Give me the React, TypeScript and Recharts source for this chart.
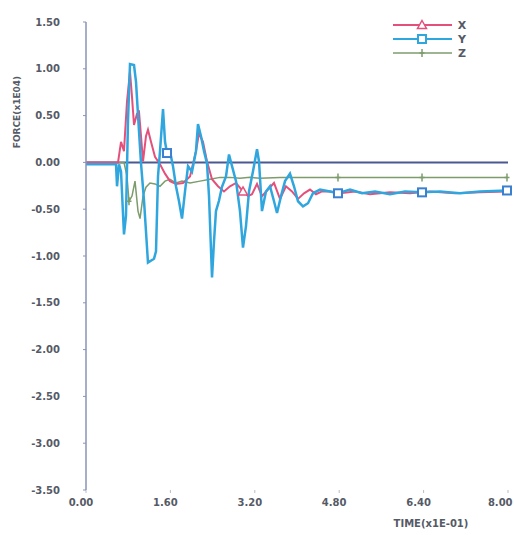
import { LineChart, Line, XAxis, YAxis, ReferenceLine } from "recharts";

// time in units of 1E-01, force in units of 1E04
const X_TIME = [0, 0.607, 0.664, 0.72, 0.777, 0.834, 0.872, 0.91, 0.967, 1.005, 1.043, 1.081, 1.137, 1.175, 1.232, 1.308, 1.403, 1.498, 1.592, 1.706, 1.839, 1.972, 2.085, 2.142, 2.218, 2.294, 2.389, 2.502, 2.616, 2.73, 2.844, 2.976, 3.071, 3.147, 3.242, 3.336, 3.45, 3.564, 3.678, 3.791, 3.905, 4.019, 4.133, 4.246, 4.36, 4.474, 4.626, 4.815, 5.1, 5.384, 5.763, 6.142, 6.521, 6.995, 7.469, 7.981];
const X_FORCE = [0, 0, 0.22, 0.12, 0.65, 0.97, 0.7, 0.4, 0.52, 0.54, 0.28, 0.01, 0.28, 0.35, 0.22, 0.06, -0.02, -0.12, -0.2, -0.23, -0.22, -0.15, 0.12, 0.31, 0.22, 0.01, -0.18, -0.255, -0.31, -0.255, -0.22, -0.31, -0.36, -0.34, -0.23, -0.36, -0.29, -0.22, -0.39, -0.255, -0.31, -0.39, -0.33, -0.29, -0.34, -0.31, -0.31, -0.33, -0.31, -0.34, -0.32, -0.33, -0.31, -0.33, -0.32, -0.31];

const Y_TIME = [0, 0.569, 0.588, 0.626, 0.664, 0.72, 0.758, 0.796, 0.834, 0.91, 0.948, 1.005, 1.043, 1.1, 1.175, 1.289, 1.327, 1.365, 1.403, 1.46, 1.498, 1.536, 1.592, 1.649, 1.706, 1.763, 1.82, 1.877, 1.934, 2.009, 2.085, 2.123, 2.18, 2.237, 2.294, 2.332, 2.389, 2.427, 2.464, 2.521, 2.578, 2.654, 2.711, 2.768, 2.844, 2.919, 2.976, 3.033, 3.09, 3.166, 3.242, 3.28, 3.336, 3.412, 3.488, 3.564, 3.621, 3.697, 3.773, 3.867, 3.943, 4.019, 4.114, 4.209, 4.303, 4.436, 4.626, 4.777, 5.005, 5.232, 5.479, 5.763, 6.047, 6.37, 6.711, 7.09, 7.469, 7.981];
const Y_FORCE = [-0.02, -0.02, -0.255, -0.02, -0.1, -0.77, -0.57, 0.44, 1.05, 1.04, 0.86, 0.33, -0.01, -0.41, -1.07, -1.03, -0.95, -0.15, 0.12, 0.57, 0.22, 0.1, 0.12, -0.04, -0.255, -0.415, -0.6, -0.31, -0.04, -0.1, 0.12, 0.41, 0.28, 0.12, -0.01, -0.36, -1.23, -0.84, -0.52, -0.41, -0.26, -0.15, 0.085, -0.04, -0.2, -0.52, -0.91, -0.68, -0.31, -0.095, 0.14, 0.01, -0.52, -0.31, -0.255, -0.415, -0.54, -0.36, -0.2, -0.12, -0.255, -0.415, -0.47, -0.436, -0.33, -0.29, -0.31, -0.33, -0.29, -0.33, -0.31, -0.34, -0.31, -0.32, -0.31, -0.33, -0.31, -0.3];

const Z_TIME = [0, 0.72, 0.777, 0.815, 0.872, 0.929, 0.986, 1.024, 1.081, 1.137, 1.213, 1.308, 1.403, 1.498, 1.592, 1.706, 1.82, 1.972, 2.161, 2.351, 2.54, 2.73, 2.919, 3.109, 3.299, 3.678, 4.057, 4.777, 6.37, 7.981];
const Z_FORCE = [0, 0, -0.15, -0.415, -0.36, -0.2, -0.52, -0.6, -0.36, -0.265, -0.22, -0.23, -0.255, -0.2, -0.18, -0.22, -0.2, -0.22, -0.2, -0.18, -0.16, -0.16, -0.17, -0.16, -0.17, -0.16, -0.16, -0.16, -0.16, -0.16];

// points where the plotter drew its symbols
const X_MARKS = [2.976];
const Y_MARKS = [1.536, 4.777, 6.37, 7.981];
const Z_MARKS = [0.815, 4.777, 6.37, 7.981];

const X_TICKS = [0, 1.6, 3.2, 4.8, 6.4, 8.0];
const Y_TICKS = [1.5, 1.0, 0.5, 0, -0.5, -1.0, -1.5, -2.0, -2.5, -3.0, -3.5];

const SERIES = [
    { name: "X", color: "#e4507c", shape: "triangle" },
    { name: "Y", color: "#2fa6de", shape: "square" },
    { name: "Z", color: "#7c9c6c", shape: "plus" },
];

const toRows = (t: number[], v: number[]) => t.map((time, i) => ({ t: time, v: v[i] }));

const xData = toRows(X_TIME, X_FORCE);
const yData = toRows(Y_TIME, Y_FORCE);
const zData = toRows(Z_TIME, Z_FORCE);

const FONT = "DejaVu Sans";
const TEXT = "#555a66";

function Marker({ cx, cy, shape, color }: { cx: number; cy: number; shape: string; color: string }) {
    if (shape === "triangle") {
        return <path d={`M${cx},${cy - 4.5} L${cx + 4.5},${cy + 3.5} L${cx - 4.5},${cy + 3.5} Z`} fill="#fff" stroke={color} strokeWidth={1.5} />;
    }
    if (shape === "square") {
        return <rect x={cx - 4} y={cy - 4} width={8} height={8} fill="#fff" stroke={color} strokeWidth={2} />;
    }
    return <path d={`M${cx},${cy - 4} L${cx},${cy + 4} M${cx - 2.5},${cy} L${cx + 2.5},${cy}`} stroke={color} strokeWidth={1.5} />;
}

const makeDot = (marks: number[], shape: string, color: string) => (props: any) => {
    const { cx, cy, payload, index } = props;
    if (!payload || !marks.includes(payload.t)) return <g key={`d-${index}`} />;
    return (
        <g key={`d-${index}`}>
            <Marker cx={cx} cy={cy} shape={shape} color={color} />
        </g>
    );
};

const ChartLegend = () => (
    <svg width={90} height={44} style={{ position: "absolute", left: 390, top: 17 }}>
        {SERIES.map((s, i) => (
            <g key={s.name}>
                <line x1={3} x2={62} y1={8 + i * 14} y2={8 + i * 14} stroke={s.color} strokeWidth={s.name === "Z" ? 1.5 : 2} />
                <Marker cx={32} cy={8 + i * 14} shape={s.shape} color={s.color} />
                <text x={72} y={12 + i * 14} fontFamily={FONT} fontSize={11} fontWeight="bold" fill={TEXT} textAnchor="middle">
                    {s.name}
                </text>
            </g>
        ))}
    </svg>
);

export default function App() {
    return (
        <div style={{ position: "absolute", left: 0, top: 0, width: 514, height: 535, background: "#fff" }}>
            <LineChart width={514} height={535} margin={{ top: 22, right: 6, bottom: 15, left: 0 }}>
                <XAxis
                    dataKey="t"
                    type="number"
                    domain={[0, 8]}
                    ticks={X_TICKS}
                    tickFormatter={(v: number) => v.toFixed(2)}
                    axisLine={false}
                    tickLine={{ stroke: "#b8bcc8" }}
                    tickSize={3}
                    tickMargin={6}
                    height={30}
                    tick={{ fontFamily: FONT, fontSize: 10, fontWeight: "bold", fill: TEXT, dx: -5 }}
                    label={{
                        content: () => (
                            <text x={431} y={527} fontFamily={FONT} fontSize={10} fontWeight="bold" fill={TEXT} textAnchor="middle">
                                TIME(x1E-01)
                            </text>
                        ),
                    }}
                />
                <YAxis
                    type="number"
                    domain={[-3.5, 1.5]}
                    ticks={Y_TICKS}
                    tickFormatter={(v: number) => v.toFixed(2)}
                    axisLine={{ stroke: "#8a93b8", strokeWidth: 1.5 }}
                    tickLine={{ stroke: "#8a93b8" }}
                    tickSize={3}
                    tickMargin={23}
                    width={86}
                    tick={{ fontFamily: FONT, fontSize: 10, fontWeight: "bold", fill: TEXT }}
                    label={{
                        content: () => (
                            <text x={20} y={112} transform="rotate(-90 20 112)" fontFamily={FONT} fontSize={9} fontWeight="bold" fill={TEXT} textAnchor="middle">
                                FORCE(x1E04)
                            </text>
                        ),
                    }}
                />
                <ReferenceLine y={0} stroke="#4b5892" strokeWidth={2} />
                <Line data={zData} dataKey="v" name="Z" stroke="#7c9c6c" strokeWidth={1.5} dot={makeDot(Z_MARKS, "plus", "#7c9c6c")} isAnimationActive={false} />
                <Line data={xData} dataKey="v" name="X" stroke="#e4507c" strokeWidth={2} dot={makeDot(X_MARKS, "triangle", "#e4507c")} isAnimationActive={false} />
                <Line data={yData} dataKey="v" name="Y" stroke="#2fa6de" strokeWidth={2.5} dot={makeDot(Y_MARKS, "square", "#3a7fd0")} isAnimationActive={false} />
            </LineChart>
            <ChartLegend />
        </div>
    );
}
